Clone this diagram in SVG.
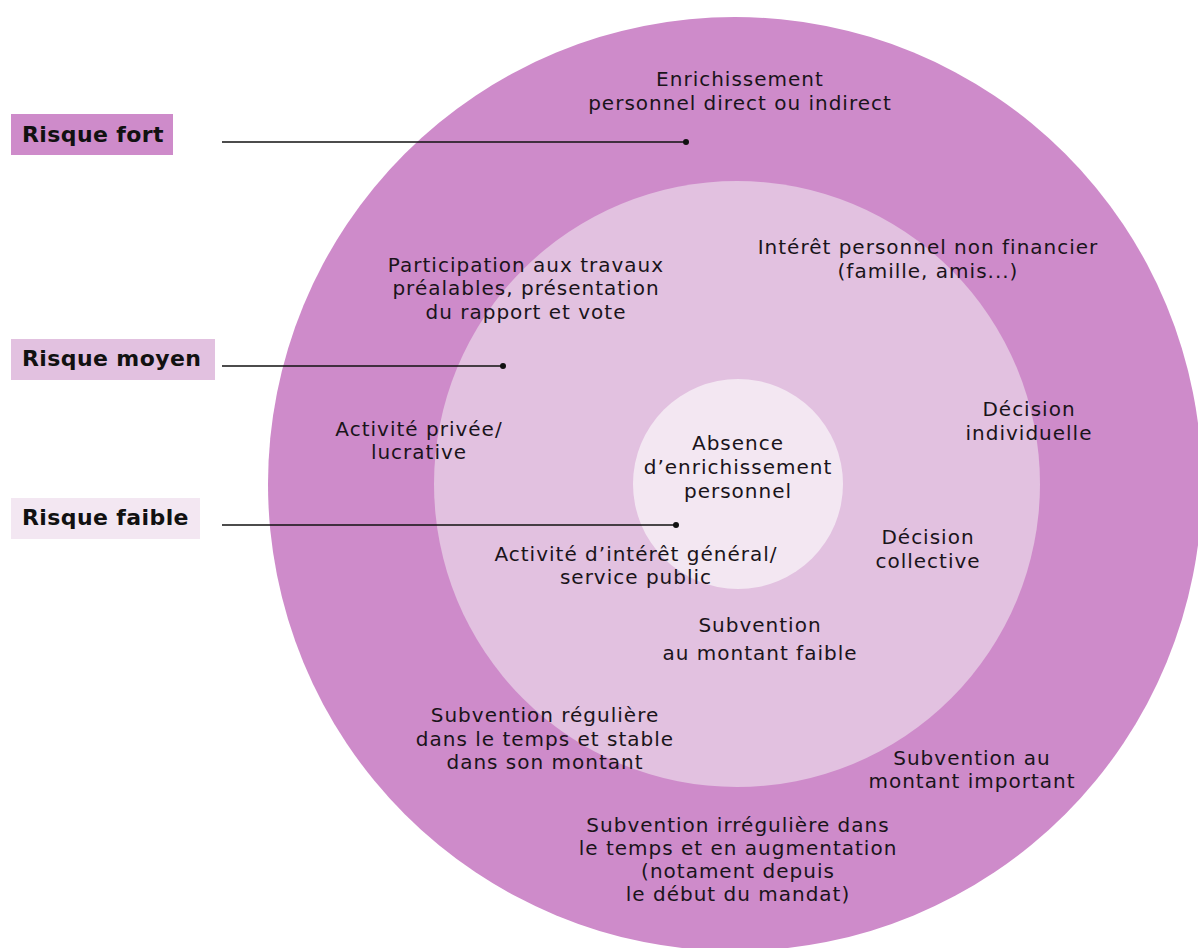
<svg xmlns="http://www.w3.org/2000/svg" width="1198" height="948" viewBox="0 0 1198 948">
  <style>
    .t { font-family: "DejaVu Sans", "Liberation Sans", sans-serif; font-size: 20px; letter-spacing: 1px; fill: #1a141a; text-anchor: middle; }
    .lbl { font-family: "DejaVu Sans", "Liberation Sans", sans-serif; font-size: 22px; letter-spacing: 0.4px; font-weight: 700; fill: #111; }
    .lead { stroke: #111; stroke-width: 1.6; fill: none; }
    .dot { fill: #111; }
  </style>
  <rect width="1198" height="948" fill="#ffffff"/>

  <!-- concentric risk rings -->
  <g id="ring-fort"><circle cx="735" cy="484" r="467" fill="#CE8BCA"/></g>
  <g id="ring-moyen"><circle cx="737" cy="484" r="303" fill="#E2C1E0"/></g>
  <g id="ring-faible"><circle cx="738" cy="484" r="105" fill="#F3E7F2"/></g>

  <!-- legend labels -->
  <g id="label-fort">
    <rect x="11" y="114" width="162" height="41" fill="#CE8BCA"/>
    <text class="lbl" x="22" y="142">Risque fort</text>
  </g>
  <g id="label-moyen">
    <rect x="11" y="339" width="204" height="41" fill="#E2C1E0"/>
    <text class="lbl" x="22" y="366">Risque moyen</text>
  </g>
  <g id="label-faible">
    <rect x="11" y="498" width="189" height="41" fill="#F3E7F2"/>
    <text class="lbl" x="22" y="525">Risque faible</text>
  </g>

  <!-- leader lines -->
  <g id="connectors">
    <line class="lead" x1="222" y1="142" x2="686" y2="142"/>
    <circle class="dot" cx="686" cy="142" r="3"/>
    <line class="lead" x1="222" y1="366" x2="503" y2="366"/>
    <circle class="dot" cx="503" cy="366" r="3"/>
    <line class="lead" x1="222" y1="525" x2="676" y2="525"/>
    <circle class="dot" cx="676" cy="525" r="3"/>
  </g>

  <!-- ring texts -->
  <g id="txt-enrichissement">
    <text class="t" x="740" y="86">Enrichissement</text>
    <text class="t" x="740" y="110">personnel direct ou indirect</text>
  </g>
  <g id="txt-participation">
    <text class="t" x="526" y="272">Participation aux travaux</text>
    <text class="t" x="526" y="295">préalables, présentation</text>
    <text class="t" x="526" y="319">du rapport et vote</text>
  </g>
  <g id="txt-interet">
    <text class="t" x="928" y="254">Intérêt personnel non financier</text>
    <text class="t" x="928" y="278">(famille, amis...)</text>
  </g>
  <g id="txt-privee">
    <text class="t" x="419" y="436">Activité privée/</text>
    <text class="t" x="419" y="459">lucrative</text>
  </g>
  <g id="txt-absence">
    <text class="t" x="738" y="450">Absence</text>
    <text class="t" x="738" y="474">d’enrichissement</text>
    <text class="t" x="738" y="498">personnel</text>
  </g>
  <g id="txt-individuelle">
    <text class="t" x="1029" y="416">Décision</text>
    <text class="t" x="1029" y="440">individuelle</text>
  </g>
  <g id="txt-general">
    <text class="t" x="636" y="561">Activité d’intérêt général/</text>
    <text class="t" x="636" y="584">service public</text>
  </g>
  <g id="txt-collective">
    <text class="t" x="928" y="544">Décision</text>
    <text class="t" x="928" y="568">collective</text>
  </g>
  <g id="txt-faible">
    <text class="t" x="760" y="632">Subvention</text>
    <text class="t" x="760" y="660">au montant faible</text>
  </g>
  <g id="txt-reguliere">
    <text class="t" x="545" y="722">Subvention régulière</text>
    <text class="t" x="545" y="746">dans le temps et stable</text>
    <text class="t" x="545" y="769">dans son montant</text>
  </g>
  <g id="txt-important">
    <text class="t" x="972" y="765">Subvention au</text>
    <text class="t" x="972" y="788">montant important</text>
  </g>
  <g id="txt-irreguliere">
    <text class="t" x="738" y="832">Subvention irrégulière dans</text>
    <text class="t" x="738" y="855">le temps et en augmentation</text>
    <text class="t" x="738" y="878">(notament depuis</text>
    <text class="t" x="738" y="901">le début du mandat)</text>
  </g>
</svg>
